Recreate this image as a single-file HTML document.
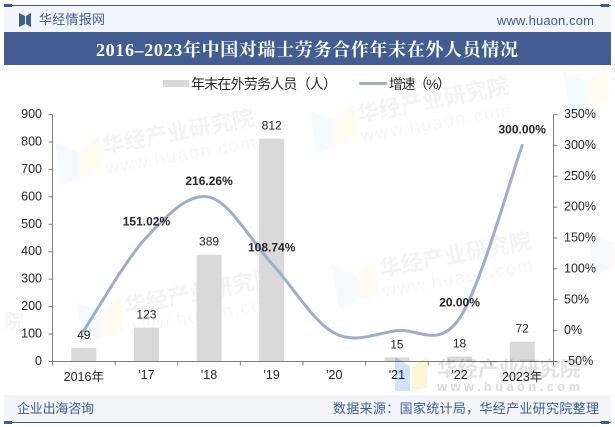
<!DOCTYPE html>
<html lang="zh">
<head>
<meta charset="utf-8">
<title>2016-2023年中国对瑞士劳务合作年末在外人员情况</title>
<style>
html,body{margin:0;padding:0;background:#fff}
svg{display:block}
text{font-family:"Liberation Sans","Noto Sans CJK SC",sans-serif}
.tick{font-size:12.5px;fill:#262626}
.blue{fill:#3f5c97}
.multiply{mix-blend-mode:multiply}
</style>
</head>
<body>
<svg id="chart" width="615" height="427" viewBox="0 0 615 427" xmlns="http://www.w3.org/2000/svg">
<defs>
<g id="wm-soft">
<polygon points="0,6 24,16 24,42 7,50" fill="#e9f1fb" opacity=".4"/>
<polygon points="24,16 44,0 46,36 24,42" fill="#fdf8e4" opacity=".5"/>
<text x="49" y="18" font-size="22" font-weight="700" fill="#f4f4f6" transform="rotate(-11 49 18)" style="font-family:'Noto Sans CJK SC',sans-serif">华经产业研究院</text>
<text x="52" y="38" font-size="18" letter-spacing="1.6" fill="#f6f6f7" transform="rotate(-10 52 38)">www.huaon.com</text>
</g>
</defs>

<rect width="615" height="427" fill="#fff"/>

<rect x="4" y="6" width="607" height="26" fill="#f3f5fa"/>
<rect x="4" y="5" width="607" height="1" fill="#3f5c97"/>
<rect x="4" y="4" width="8" height="3" fill="#3f5c97"/>
<rect x="601" y="4" width="8" height="3" fill="#3f5c97"/>
<g>
<polygon points="19,13 25,16 25,24 19,27" fill="#3f5c97"/>
<polygon points="31,13 26,16 26,24 31,27" fill="#3f5c97"/>
</g>
<text class="blue" x="39" y="24" font-size="13" textLength="66">华经情报网</text>
<text class="blue" x="497" y="25" font-size="13" textLength="97">www.huaon.com</text>

<rect x="4" y="32" width="607" height="33" fill="#435d93"/>
<text x="96" y="56" font-size="18" font-weight="700" fill="#fff" textLength="422" style="font-family:'Liberation Serif','Noto Serif CJK SC',serif">2016–2023年中国对瑞士劳务合作年末在外人员情况</text>

<g>
<rect x="163" y="80" width="26" height="7" fill="#d9d9d9"/>
<text x="191" y="89" font-size="14" fill="#262626" textLength="146">年末在外劳务人员（人）</text>
<rect x="359" y="82" width="28" height="3" rx="1.5" fill="#a0aec8"/>
<text x="389" y="89" font-size="14" fill="#262626" textLength="62">增速（%）</text>
</g>

<g>
<use href="#wm-soft" x="55" y="136"/>
<use href="#wm-soft" x="77" y="296"/>
<use href="#wm-soft" x="332" y="259"/>
<use href="#wm-soft" x="310" y="104"/>
<use href="#wm-soft" x="563" y="65"/>
<use href="#wm-soft" x="588" y="226"/>
<text x="4" y="328" font-size="20" font-weight="700" fill="#f5f5f6">院</text>
</g>

<g id="plot"></g>

<g class="multiply">
<polygon points="395,357 410,366 410,391 395,391" fill="#cfe2fa"/>
<polygon points="412,366 427,357 427,388 412,391" fill="#fdf6d6"/>
<text x="437" y="376" font-size="20.5" font-weight="700" fill="#e2e2e2" style="font-family:'Noto Sans CJK SC',sans-serif">华经产业研究院</text>
<text x="437" y="391" font-size="13" font-weight="700" fill="#dcdcdc" textLength="143">www.huaon.com</text>
</g>

<rect x="4" y="395" width="607" height="27" fill="#f3f5fa"/>
<rect x="4" y="422" width="607" height="1" fill="#3f5c97"/>
<rect x="4" y="421" width="8" height="3" fill="#3f5c97"/>
<rect x="601" y="421" width="8" height="3" fill="#3f5c97"/>
<text class="blue" x="17" y="413" font-size="13" textLength="77">企业出海咨询</text>
<text class="blue" x="333" y="413" font-size="13" textLength="266">数据来源：国家统计局，华经产业研究院整理</text>
</svg>

<script>
const categories = ["2016年", "'17", "'18", "'19", "'20", "'21", "'22", "2023年"];
const barValues = [49, 123, 389, 812, 0, 15, 18, 72];
const barLabels = ["49", "123", "389", "812", "", "15", "18", "72"];
const growthValues = [0, 151.02, 216.26, 108.74, -4, 0, 20, 300];
const growthLabels = ["", "151.02%", "216.26%", "108.74%", "", "", "20.00%", "300.00%"];
const leftTicks = [0, 100, 200, 300, 400, 500, 600, 700, 800, 900];
const rightTicks = [-50, 0, 50, 100, 150, 200, 250, 300, 350];

const NS = 'http://www.w3.org/2000/svg';
const plot = document.getElementById('plot');
const left = 52.5, right = 553.5, top_ = 114.5, bottom = 361.5;
const band = (right - left) / categories.length;
const xPos = i => left + band * (i + 0.5);
const yLeft = v => bottom - (v - leftTicks[0]) / (leftTicks[leftTicks.length - 1] - leftTicks[0]) * (bottom - top_);
const yRight = v => bottom - (v - rightTicks[0]) / (rightTicks[rightTicks.length - 1] - rightTicks[0]) * (bottom - top_);

function make(tag, attrs, text) {
  const el = document.createElementNS(NS, tag);
  for (const k in attrs) el.setAttribute(k, attrs[k]);
  if (text !== undefined) el.textContent = text;
  plot.appendChild(el);
  return el;
}

barValues.forEach((v, i) => {
  const el = make('rect', {x: xPos(i) - 12.5, y: yLeft(v), width: 25, height: bottom - yLeft(v), fill: '#d9d9d9'});
  
  
});

const axisColor = '#808080';
function line(x1, y1, x2, y2, name) {
  const el = make('line', {x1, y1, x2, y2, stroke: axisColor, 'stroke-width': 1});
  
  
}
line(left, top_, left, bottom, 'left-axis');
line(right, top_, right, bottom, 'right-axis');
line(left, bottom, right, bottom, 'x-axis');

leftTicks.forEach(v => {
  line(left - 4, yLeft(v), left, yLeft(v), 'left-tick');
  const el = make('text', {x: 42, y: yLeft(v) + 3.5, 'text-anchor': 'end', class: 'tick'}, String(v));
  
  
});
rightTicks.forEach(v => {
  line(right, yRight(v), right + 4, yRight(v), 'right-tick');
  const el = make('text', {x: 564, y: yRight(v) + 3.5, class: 'tick'}, v + '%');
  
  
});
categories.forEach((c, i) => {
  line(left + band * i, bottom, left + band * i, bottom + 4, 'x-tick');
  const wide = c.length > 3;
  const el = make('text', {x: xPos(i), y: wide ? 381 : 379, 'text-anchor': 'middle', class: 'tick'}, c);
  
  
});
line(right, bottom, right, bottom + 4, 'x-tick');

const pts = growthValues.map((v, i) => [xPos(i), yRight(v)]);
let d = 'M' + pts[0][0] + ' ' + pts[0][1];
for (let i = 0; i < pts.length - 1; i++) {
  const p0 = pts[Math.max(i - 1, 0)], p1 = pts[i], p2 = pts[i + 1], p3 = pts[Math.min(i + 2, pts.length - 1)];
  const c1x = p1[0] + (p2[0] - p0[0]) / 6, c1y = p1[1] + (p2[1] - p0[1]) / 6;
  const c2x = p2[0] - (p3[0] - p1[0]) / 6, c2y = p2[1] - (p3[1] - p1[1]) / 6;
  d += ' C' + c1x + ' ' + c1y + ' ' + c2x + ' ' + c2y + ' ' + p2[0] + ' ' + p2[1];
}
const growthLine = make('path', {d, fill: 'none', stroke: '#9fadc8', 'stroke-width': 3, 'stroke-linecap': 'round'});



barLabels.forEach((t, i) => {
  if (!t) return;
  const el = make('text', {x: xPos(i), y: yLeft(barValues[i]) - 9, 'text-anchor': 'middle', 'font-size': 12, fill: '#262626'}, t);
  
  
});
growthLabels.forEach((t, i) => {
  if (!t) return;
  const el = make('text', {x: xPos(i), y: yRight(growthValues[i]) - 12, 'text-anchor': 'middle', 'font-size': 12, 'font-weight': 700, fill: '#262626'}, t);
  
  
});
</script>
</body>
</html>
